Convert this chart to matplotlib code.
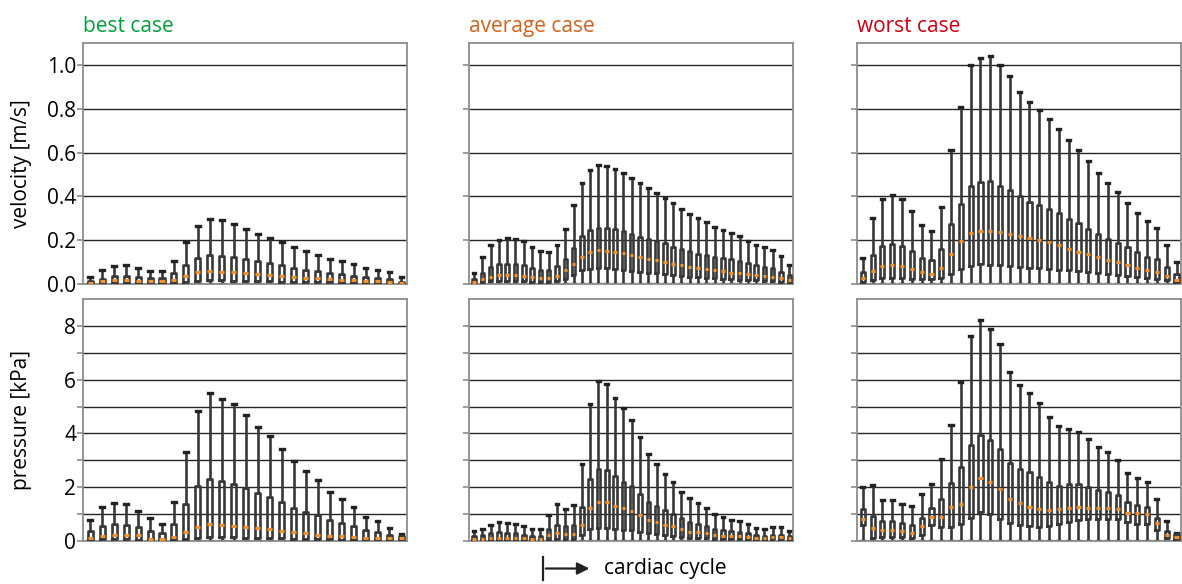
import numpy as np
import matplotlib.pyplot as plt
from matplotlib.lines import Line2D
from matplotlib.patches import FancyArrowPatch

plt.rcParams['font.family'] = ['Open Sans', 'DejaVu Sans']
plt.rcParams['font.size'] = 15

# ---- velocity [m/s] ----
# best case (27 time steps)
best_v_hi = [0.03, 0.064, 0.082, 0.085, 0.075, 0.061, 0.061, 0.105, 0.19, 0.264, 0.296, 0.29, 0.273, 0.25,
             0.23, 0.21, 0.19, 0.168, 0.15, 0.134, 0.116, 0.104, 0.089, 0.075, 0.064, 0.053, 0.034]
best_v_q3 = [0.012, 0.022, 0.037, 0.038, 0.032, 0.026, 0.026, 0.048, 0.085, 0.117, 0.131, 0.13, 0.122, 0.112,
             0.106, 0.095, 0.085, 0.072, 0.066, 0.06, 0.052, 0.045, 0.038, 0.032, 0.028, 0.025, 0.011]
best_v_med = [0.005, 0.012, 0.018, 0.018, 0.015, 0.012, 0.012, 0.02, 0.035, 0.053, 0.058, 0.056, 0.053, 0.05,
              0.046, 0.042, 0.037, 0.032, 0.029, 0.026, 0.022, 0.019, 0.016, 0.014, 0.012, 0.011, 0.006]
best_v_q1 = [0.002, 0.004, 0.006, 0.006, 0.005, 0.004, 0.004, 0.006, 0.01, 0.014, 0.016, 0.016, 0.015, 0.014,
             0.013, 0.012, 0.011, 0.01, 0.009, 0.008, 0.007, 0.006, 0.005, 0.004, 0.004, 0.003, 0.002]

# average case (39 time steps)
avg_v_hi = [0.05, 0.123, 0.18, 0.203, 0.209, 0.206, 0.195, 0.171, 0.151, 0.146, 0.18, 0.252, 0.36, 0.46,
            0.52, 0.543, 0.538, 0.526, 0.508, 0.485, 0.46, 0.437, 0.415, 0.392, 0.369, 0.342, 0.32, 0.3,
            0.285, 0.262, 0.246, 0.234, 0.218, 0.197, 0.18, 0.168, 0.157, 0.126, 0.088]
avg_v_q3 = [0.023, 0.052, 0.078, 0.09, 0.092, 0.092, 0.086, 0.074, 0.066, 0.066, 0.08, 0.115, 0.166, 0.218,
            0.246, 0.257, 0.257, 0.252, 0.243, 0.23, 0.215, 0.206, 0.197, 0.185, 0.169, 0.158, 0.151, 0.138,
            0.132, 0.123, 0.12, 0.112, 0.106, 0.094, 0.086, 0.078, 0.074, 0.057, 0.04]
avg_v_med = [0.009, 0.023, 0.034, 0.04, 0.043, 0.043, 0.038, 0.031, 0.028, 0.028, 0.037, 0.062, 0.092, 0.125,
             0.146, 0.154, 0.151, 0.146, 0.14, 0.132, 0.123, 0.115, 0.108, 0.1, 0.092, 0.085, 0.078, 0.074,
             0.069, 0.065, 0.058, 0.052, 0.049, 0.045, 0.04, 0.037, 0.034, 0.026, 0.018]
avg_v_q1 = [0.002, 0.008, 0.012, 0.014, 0.015, 0.015, 0.013, 0.01, 0.009, 0.009, 0.012, 0.022, 0.04, 0.062,
            0.07, 0.072, 0.071, 0.068, 0.064, 0.06, 0.056, 0.052, 0.048, 0.044, 0.04, 0.036, 0.033, 0.03,
            0.028, 0.026, 0.024, 0.022, 0.02, 0.018, 0.016, 0.014, 0.013, 0.01, 0.006]

# worst case (33 time steps)
worst_v_hi = [0.118, 0.3, 0.386, 0.406, 0.386, 0.332, 0.268, 0.244, 0.353, 0.611, 0.808, 1.0, 1.032, 1.042,
              1.0, 0.95, 0.876, 0.829, 0.794, 0.753, 0.709, 0.659, 0.611, 0.561, 0.508, 0.459, 0.421, 0.371,
              0.323, 0.288, 0.255, 0.176, 0.1]
worst_v_q3 = [0.055, 0.133, 0.173, 0.182, 0.173, 0.15, 0.118, 0.109, 0.158, 0.273, 0.365, 0.448, 0.464, 0.468,
              0.448, 0.427, 0.4, 0.376, 0.362, 0.342, 0.323, 0.297, 0.277, 0.252, 0.227, 0.205, 0.189, 0.168,
              0.144, 0.123, 0.114, 0.077, 0.044]
worst_v_med = [0.026, 0.061, 0.083, 0.088, 0.083, 0.07, 0.055, 0.047, 0.073, 0.138, 0.194, 0.233, 0.244, 0.244,
               0.236, 0.227, 0.217, 0.208, 0.202, 0.191, 0.176, 0.161, 0.147, 0.136, 0.121, 0.111, 0.1, 0.085,
               0.071, 0.064, 0.055, 0.036, 0.02]
worst_v_q1 = [0.008, 0.02, 0.027, 0.027, 0.027, 0.024, 0.023, 0.023, 0.027, 0.047, 0.068, 0.083, 0.091, 0.088,
              0.085, 0.082, 0.077, 0.074, 0.071, 0.068, 0.064, 0.062, 0.059, 0.056, 0.05, 0.045, 0.041, 0.035,
              0.03, 0.026, 0.023, 0.017, 0.008]

# ---- pressure [kPa] ----
best_p_hi = [0.78, 1.28, 1.42, 1.39, 1.12, 0.84, 0.64, 1.46, 3.31, 4.85, 5.5, 5.3, 5.09, 4.7,
             4.24, 3.89, 3.43, 2.96, 2.61, 2.26, 1.83, 1.57, 1.28, 0.88, 0.76, 0.5, 0.26]
best_p_q3 = [0.36, 0.56, 0.62, 0.61, 0.51, 0.37, 0.3, 0.62, 1.38, 2.03, 2.32, 2.23, 2.13, 1.97,
             1.77, 1.64, 1.44, 1.23, 1.08, 0.95, 0.79, 0.67, 0.56, 0.4, 0.33, 0.24, 0.17]
best_p_med = [0.11, 0.2, 0.21, 0.21, 0.21, 0.09, 0.09, 0.16, 0.33, 0.51, 0.62, 0.59, 0.57, 0.53,
              0.47, 0.43, 0.38, 0.32, 0.29, 0.24, 0.2, 0.17, 0.14, 0.11, 0.1, 0.1, 0.1]
best_p_q1 = [0.04, 0.06, 0.06, 0.06, 0.05, 0.03, 0.03, 0.05, 0.08, 0.12, 0.15, 0.15, 0.14, 0.13,
             0.12, 0.11, 0.1, 0.09, 0.08, 0.07, 0.06, 0.05, 0.05, 0.04, 0.04, 0.03, 0.05]

avg_p_hi = [0.36, 0.43, 0.61, 0.7, 0.66, 0.64, 0.56, 0.43, 0.43, 0.96, 1.38, 1.2, 1.35, 2.88,
            5.1, 5.95, 5.84, 5.33, 4.93, 4.5, 3.88, 3.25, 2.86, 2.49, 2.18, 1.84, 1.59, 1.43,
            1.23, 1.01, 0.88, 0.79, 0.74, 0.63, 0.5, 0.45, 0.53, 0.53, 0.38]
avg_p_q3 = [0.18, 0.21, 0.28, 0.33, 0.31, 0.29, 0.23, 0.19, 0.19, 0.44, 0.61, 0.55, 0.61, 1.28,
            2.3, 2.68, 2.63, 2.4, 2.21, 2.03, 1.75, 1.46, 1.3, 1.15, 0.99, 0.84, 0.71, 0.65,
            0.56, 0.46, 0.4, 0.36, 0.33, 0.28, 0.21, 0.19, 0.24, 0.24, 0.19]
avg_p_med = [0.09, 0.09, 0.1, 0.13, 0.13, 0.13, 0.1, 0.09, 0.09, 0.21, 0.3, 0.26, 0.26, 0.61,
             1.24, 1.45, 1.44, 1.31, 1.21, 1.11, 0.95, 0.8, 0.71, 0.61, 0.54, 0.44, 0.35, 0.33,
             0.29, 0.24, 0.2, 0.19, 0.18, 0.15, 0.13, 0.11, 0.16, 0.16, 0.11]
avg_p_q1 = [0.03, 0.03, 0.04, 0.05, 0.05, 0.05, 0.04, 0.03, 0.03, 0.05, 0.07, 0.07, 0.07, 0.22,
            0.45, 0.5, 0.48, 0.45, 0.42, 0.4, 0.35, 0.3, 0.26, 0.22, 0.19, 0.16, 0.13, 0.12,
            0.1, 0.09, 0.08, 0.07, 0.07, 0.06, 0.05, 0.05, 0.06, 0.06, 0.04]

worst_p_hi = [2.02, 2.07, 1.54, 1.54, 1.39, 1.32, 1.73, 2.13, 3.06, 4.32, 5.92, 7.62, 8.22, 7.9,
              7.34, 6.28, 5.8, 5.5, 5.12, 4.6, 4.26, 4.18, 4.06, 3.81, 3.5, 3.3, 3.0, 2.52,
              2.35, 2.2, 1.58, 0.75, 0.31]
worst_p_q3 = [1.18, 0.93, 0.75, 0.75, 0.68, 0.61, 0.85, 1.23, 1.56, 2.14, 2.76, 3.57, 3.94, 3.76,
              3.44, 2.91, 2.69, 2.55, 2.39, 2.18, 2.05, 2.12, 2.13, 2.02, 1.89, 1.84, 1.71, 1.44,
              1.34, 1.27, 0.87, 0.37, 0.27]
worst_p_med = [0.81, 0.47, 0.4, 0.41, 0.37, 0.3, 0.55, 0.91, 0.91, 1.27, 1.37, 2.02, 2.33, 2.19,
               1.94, 1.57, 1.42, 1.26, 1.18, 1.17, 1.18, 1.22, 1.26, 1.23, 1.21, 1.21, 1.18, 1.05,
               1.03, 1.0, 0.68, 0.21, 0.14]
worst_p_q1 = [0.6, 0.11, 0.15, 0.15, 0.15, 0.1, 0.22, 0.59, 0.52, 0.52, 0.65, 0.87, 1.08, 1.0,
              0.83, 0.67, 0.61, 0.55, 0.52, 0.57, 0.64, 0.71, 0.8, 0.81, 0.81, 0.81, 0.81, 0.72,
              0.65, 0.65, 0.4, 0.1, 0.07]

titles = ['best case', 'average case', 'worst case']
title_colors = ['#00a03c', '#d4601c', '#cc0010']

vel = [(best_v_hi, best_v_q3, best_v_med, best_v_q1),
       (avg_v_hi, avg_v_q3, avg_v_med, avg_v_q1),
       (worst_v_hi, worst_v_q3, worst_v_med, worst_v_q1)]
pres = [(best_p_hi, best_p_q3, best_p_med, best_p_q1),
        (avg_p_hi, avg_p_q3, avg_p_med, avg_p_q1),
        (worst_p_hi, worst_p_q3, worst_p_med, worst_p_q1)]

line_c = '#383838'
spine_c = '#8c8c8c'


def draw(ax, series):
    hi, q3, med, q1 = series
    # lower whiskers all reach zero in the source
    stats = [dict(whislo=0.0, q1=a, med=m, q3=b, whishi=h) for h, b, m, a in zip(hi, q3, med, q1)]
    n = len(stats)
    ax.bxp(stats, positions=np.arange(1, n + 1), widths=0.42, capwidths=0.32, showfliers=False,
           boxprops=dict(color=line_c, lw=1.9, zorder=3),
           whiskerprops=dict(color=line_c, lw=1.9),
           capprops=dict(color='#222222', lw=2.4),
           medianprops=dict(color='#f5922e', lw=2.2, zorder=4))
    ax.set_xlim(0.4, n + 0.5)
    ax.set_xticks([])
    ax.yaxis.grid(True, color='#262626', lw=1.0)
    ax.tick_params(axis='y', length=4, pad=1, color=spine_c, width=1.2)
    for s in ax.spines.values():
        s.set_color(spine_c)
        s.set_linewidth(1.3)


fig = plt.figure(figsize=(11.82, 5.84), dpi=100)
lefts = [0.0702, 0.3968, 0.7250]
w = 0.2745

for i in range(3):
    ax = fig.add_axes([lefts[i], 0.5137, w, 0.4127])
    draw(ax, vel[i])
    ax.set_ylim(0, 1.1)
    ax.set_yticks([0.0, 0.2, 0.4, 0.6, 0.8, 1.0])
    ax.set_title(titles[i], loc='left', color=title_colors[i], fontsize=15, pad=8)
    if i == 0:
        ax.set_yticklabels(['0.0', '0.2', '0.4', '0.6', '0.8', '1.0'])
        ax.set_ylabel('velocity [m/s]')
        ax.yaxis.set_label_coords(-0.158, 0.5)
    else:
        ax.set_yticklabels([])

    ax2 = fig.add_axes([lefts[i], 0.0736, w, 0.4144])
    draw(ax2, pres[i])
    ax2.set_ylim(0, 9)
    ax2.set_yticks(range(0, 9))
    if i == 0:
        ax2.set_yticklabels(['0', '', '2', '', '4', '', '6', '', '8'])
        ax2.set_ylabel('pressure [kPa]')
        ax2.yaxis.set_label_coords(-0.158, 0.5)
    else:
        ax2.set_yticklabels([])

# cardiac cycle arrow
fig.add_artist(Line2D([0.4594, 0.4594], [0.006, 0.046], transform=fig.transFigure, color='#222222', lw=1.6))
fig.patches.append(FancyArrowPatch(
    (0.4594, 0.0265), (0.501, 0.0265), transform=fig.transFigure, arrowstyle='-|>',
    mutation_scale=18, color='#222222', lw=1.6))
fig.text(0.511, 0.0265, 'cardiac cycle', fontsize=15, va='center', ha='left')

fig.savefig('out.png', dpi=100)
